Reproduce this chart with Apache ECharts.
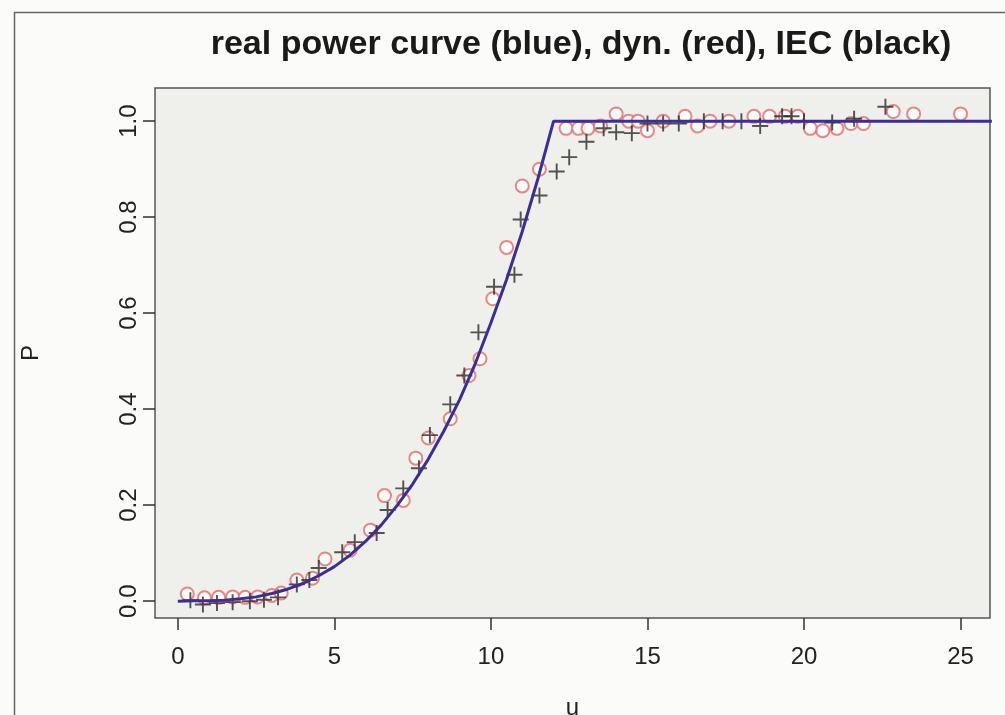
<!DOCTYPE html>
<html>
<head>
<meta charset="utf-8">
<script src="https://cdn.jsdelivr.net/npm/echarts@6/dist/echarts.min.js"></script>
<style>
html,body{margin:0;padding:0;background:#fbfbfa;}
#chart{width:1005px;height:715px;}
</style>
</head>
<body>
<div id="chart"></div>
<script>
// Tick labels
const xTicks = [0, 5, 10, 15, 20, 25];
const yTicks = [0.0, 0.2, 0.4, 0.6, 0.8, 1.0];

// Real power curve (blue)
const realU = [0,0.5,1,1.5,2,2.5,3,3.5,4,4.5,5,5.5,6,6.5,7,7.5,8,8.5,9,9.5,10,10.5,11,11.5,12,26];
const realP = [0,0.001,0.001,0.002,0.005,0.009,0.016,0.025,0.037,0.053,0.072,0.096,0.125,0.159,0.199,0.244,0.296,0.355,0.42,0.495,0.58,0.67,0.77,0.88,1.0,1.0];

// Dynamic method (red circles)
const dynU = [0.3,0.85,1.3,1.75,2.15,2.55,3.0,3.3,3.8,4.3,4.7,5.5,6.15,6.6,7.2,7.6,8.0,8.7,9.3,9.65,10.06,10.5,11.0,11.55,12.4,12.8,13.1,13.5,14.0,14.4,14.7,15.0,15.5,16.2,16.6,17.0,17.6,18.4,18.9,19.4,19.8,20.2,20.6,21.05,21.5,21.9,22.85,23.5,25.0];
const dynP = [0.015,0.007,0.008,0.009,0.008,0.009,0.012,0.017,0.044,0.048,0.088,0.106,0.148,0.22,0.21,0.298,0.34,0.38,0.47,0.505,0.63,0.737,0.865,0.9,0.985,0.985,0.985,0.99,1.015,1.0,1.0,0.98,1.0,1.01,0.99,1.0,1.0,1.01,1.01,1.01,1.01,0.985,0.98,0.985,0.995,0.995,1.02,1.015,1.015];

// IEC method (black crosses)
const iecU = [0.4,0.8,1.25,1.75,2.3,2.75,3.2,3.8,4.2,4.5,5.25,5.65,6.35,6.7,7.2,7.7,8.05,8.7,9.15,9.6,10.1,10.75,10.95,11.55,12.1,12.5,13.05,13.6,14.0,14.5,15.0,15.5,16.0,16.8,17.4,18.0,18.6,19.3,19.6,20.0,20.9,21.6,22.6];
const iecP = [0.002,-0.007,-0.004,-0.002,0.0,0.003,0.008,0.035,0.044,0.069,0.102,0.123,0.142,0.19,0.235,0.277,0.346,0.41,0.47,0.56,0.655,0.68,0.795,0.845,0.895,0.925,0.957,0.985,0.977,0.975,0.995,0.995,0.995,1.0,1.0,1.0,0.99,1.01,1.01,1.0,0.997,1.005,1.03];

const zip = (a, b) => a.map((v, i) => [v, b[i]]);
const plusPath = 'path://M-1.2,-10 L1.2,-10 L1.2,-1.2 L10,-1.2 L10,1.2 L1.2,1.2 L1.2,10 L-1.2,10 L-1.2,1.2 L-10,1.2 L-10,-1.2 L-1.2,-1.2 Z';
const font = 'Liberation Sans';

const chart = echarts.init(document.getElementById('chart'));
chart.setOption({
  backgroundColor: '#fbfbfa',
  animation: false,
  title: {
    text: 'real power curve (blue), dyn. (red), IEC (black)',
    left: 576, top: 23, textAlign: 'center',
    textStyle: {fontFamily: font, fontWeight: 'bold', fontSize: 34, color: '#1a1a1a'}
  },
  graphic: [{
    type: 'rect', left: 12, top: 10, silent: true,
    shape: {width: 1000, height: 720},
    style: {fill: 'none', stroke: '#666', lineWidth: 1.5}
  }],
  grid: {
    left: 155, top: 88, right: 15, bottom: 97,
    outerBoundsMode: 'none', containLabel: false,
    show: true, backgroundColor: '#efefec', borderColor: '#555', borderWidth: 1.5
  },
  xAxis: {
    type: 'value', min: -0.73, max: 25.94,
    name: 'u', nameLocation: 'middle', nameGap: 78,
    nameTextStyle: {fontFamily: font, fontSize: 24, color: '#222'},
    axisLine: {show: false, onZero: false},
    splitLine: {show: false},
    axisTick: {show: true, inside: false, length: 12, customValues: xTicks, lineStyle: {color: '#333', width: 1.5}},
    axisLabel: {customValues: xTicks, margin: 27, fontFamily: font, fontSize: 24, color: '#222'}
  },
  yAxis: {
    type: 'value', min: -0.035, max: 1.069,
    name: 'P', nameLocation: 'middle', nameGap: 112, nameRotate: 90,
    nameTextStyle: {fontFamily: font, fontSize: 24, color: '#222'},
    axisLine: {show: false, onZero: false},
    splitLine: {show: false},
    axisTick: {show: true, inside: false, length: 12, customValues: yTicks, lineStyle: {color: '#333', width: 1.5}},
    axisLabel: {customValues: yTicks, rotate: 90, margin: 14, fontFamily: font, fontSize: 24, color: '#222',
      formatter: v => v.toFixed(1)}
  },
  series: [
    {
      name: 'dyn', type: 'scatter', data: zip(dynU, dynP), z: 2,
      symbol: 'emptyCircle', symbolSize: 13,
      itemStyle: {color: '#e26a6a', borderColor: '#e26a6a', borderWidth: 1.4}
    },
    {
      name: 'IEC', type: 'scatter', data: zip(iecU, iecP), z: 3,
      symbol: plusPath, symbolSize: 16,
      itemStyle: {color: '#2a2a2a'}
    },
    {
      name: 'real', type: 'line', data: zip(realU, realP), z: 4,
      showSymbol: false, clip: true,
      lineStyle: {color: '#3b2f96', width: 3}
    }
  ]
});
</script>
</body>
</html>
